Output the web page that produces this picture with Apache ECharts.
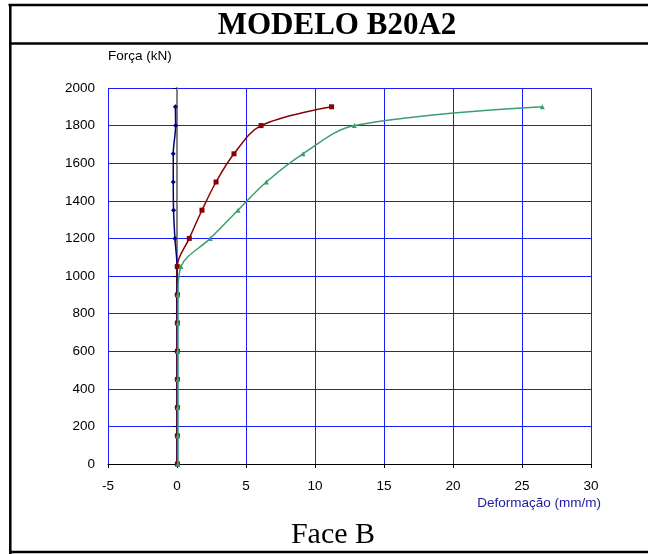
<!DOCTYPE html>
<html>
<head>
<meta charset="utf-8">
<script src="https://cdn.jsdelivr.net/npm/echarts@6/dist/echarts.min.js"></script>
<style>
html,body{margin:0;padding:0;background:#fff;}
#c{width:648px;height:554px;}
</style>
</head>
<body>
<div id="c"></div>
<script>
// ---- Data ----
const titleText = 'MODELO B20A2';
const footerText = 'Face B';
const yAxisName = 'Força (kN)';
const xAxisName = 'Deformação (mm/m)';

const forces = [0, 150, 300, 450, 600, 750, 900, 1050, 1200, 1350, 1500, 1650, 1800, 1900];
const blueStrain  = [0, 0, 0, 0, 0, 0, -0.02, 0, -0.15, -0.25, -0.27, -0.27, -0.1, -0.12];
const redStrain   = [0.03, 0.03, 0.03, 0.03, 0.03, 0.03, 0.03, 0.02, 0.89, 1.81, 2.83, 4.13, 6.09, 11.2];
const greenStrain = [0.07, 0.07, 0.07, 0.07, 0.07, 0.07, 0.07, 0.29, 2.41, 4.42, 6.47, 9.13, 12.85, 26.47];

const xMin = -5, xMax = 30, xStep = 5;
const yMin = 0, yMax = 2000, yStep = 200;

function pairs(xs, ys) { return xs.map((x, i) => [x, ys[i]]); }

const chart = echarts.init(document.getElementById('c'), null, {renderer: 'canvas'});
const font = 'Liberation Sans';
const grid = {left: 108, top: 88, width: 483, height: 376};

const option = {
  backgroundColor: '#fff',
  animation: false,
  grid: grid,
  xAxis: {
    type: 'value', min: xMin, max: xMax, interval: xStep,
    axisLine: {show: true, onZero: false, lineStyle: {color: '#000', width: 1}},
    axisTick: {show: true, length: 4, lineStyle: {color: '#000'}},
    axisLabel: {color: '#000', fontFamily: font, fontSize: 13.5, margin: 15, formatter: v => String(v)},
    splitLine: {show: true, lineStyle: {color: '#1a1aff', width: 1}},
    name: xAxisName,
    nameLocation: 'end',
    nameGap: 10,
    nameTextStyle: {color: '#1a1aa0', fontFamily: font, fontSize: 13.5, align: 'right', verticalAlign: 'top', padding: [32, 0, 0, 0]}
  },
  yAxis: [
    {
      type: 'value', min: yMin, max: yMax, interval: yStep,
      axisLine: {show: true, onZero: true, lineStyle: {color: '#808080', width: 2}},
      axisTick: {show: true, length: 4, lineStyle: {color: '#000', width: 1}},
      axisLabel: {show: false},
      splitLine: {show: true, lineStyle: {color: '#1a1aff', width: 1}}
    },
    {
      type: 'value', min: yMin, max: yMax, interval: yStep, position: 'left',
      axisLine: {show: false, onZero: false},
      axisTick: {show: false},
      axisLabel: {color: '#000', fontFamily: font, fontSize: 13.5, margin: 13, formatter: v => String(v)},
      splitLine: {show: false},
      name: yAxisName,
      nameLocation: 'end',
      nameGap: 25,
      nameTextStyle: {color: '#000', fontFamily: font, fontSize: 13.5, align: 'left'}
    }
  ],
  series: [
    {
      type: 'line', yAxisIndex: 0, data: pairs(blueStrain, forces),
      smooth: 0.35, symbol: 'diamond', symbolSize: 5,
      lineStyle: {color: '#000080', width: 1.5},
      itemStyle: {color: '#000080'}, z: 3
    },
    {
      type: 'line', yAxisIndex: 0, data: pairs(redStrain, forces),
      smooth: 0.35, symbol: 'rect', symbolSize: 5,
      lineStyle: {color: '#8b0000', width: 1.5},
      itemStyle: {color: '#8b0000'}, z: 4
    },
    {
      type: 'line', yAxisIndex: 0, data: pairs(greenStrain, forces),
      smooth: 0.35, symbol: 'triangle', symbolSize: 5,
      lineStyle: {color: '#3a9f6e', width: 1.5},
      itemStyle: {color: '#3a9f6e'}, z: 5
    }
  ],
  graphic: [
    {type: 'line', shape: {x1: 8.5, y1: 5, x2: 648, y2: 5}, style: {stroke: '#000', lineWidth: 2.5}},
    {type: 'line', shape: {x1: 10.3, y1: 4, x2: 10.3, y2: 554}, style: {stroke: '#000', lineWidth: 2.5}},
    {type: 'line', shape: {x1: 9, y1: 43.5, x2: 648, y2: 43.5}, style: {stroke: '#000', lineWidth: 2.5}},
    {type: 'line', shape: {x1: 9, y1: 552, x2: 648, y2: 552}, style: {stroke: '#000', lineWidth: 2.5}},
    {type: 'text', x: 337, y: 26, style: {text: titleText, fontFamily: 'Liberation Serif', fontWeight: 'bold', fontSize: 31, fill: '#000', align: 'center', verticalAlign: 'middle'}},
    {type: 'text', x: 333, y: 535, style: {text: footerText, fontFamily: 'Liberation Serif', fontSize: 30, fill: '#000', align: 'center', verticalAlign: 'middle'}}
  ]
};
chart.setOption(option);
</script>
</body>
</html>
